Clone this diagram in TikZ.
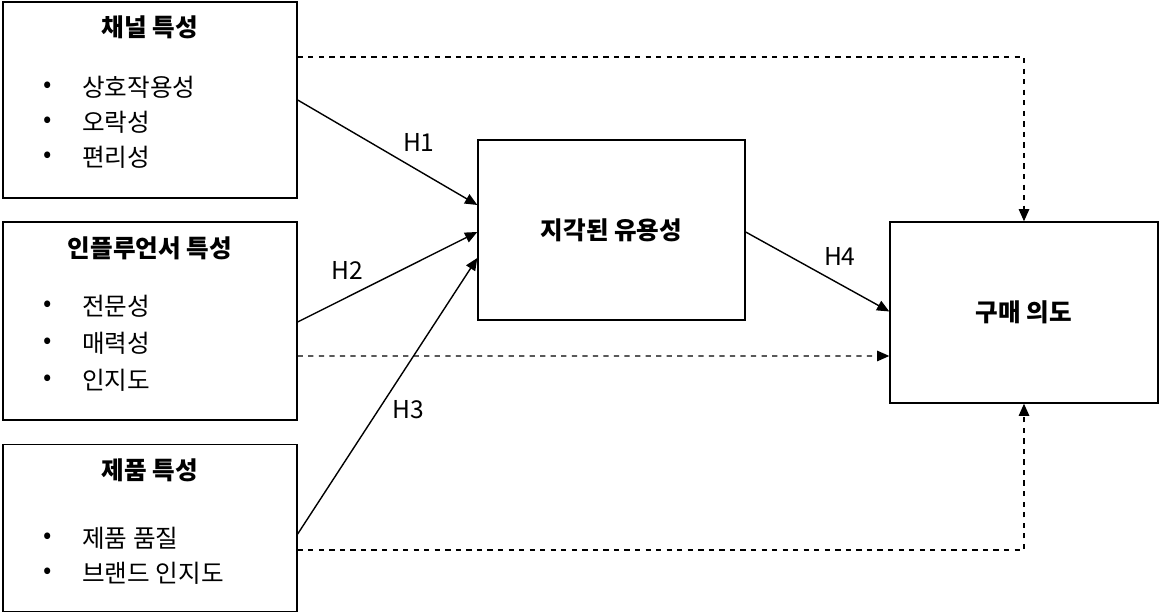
\documentclass[tikz,border=0pt]{standalone}
\usepackage{fontspec}
\setmainfont{Noto Sans CJK KR}
\usetikzlibrary{arrows.meta}
\begin{document}
\begin{tikzpicture}[x=0.02cm, y=-0.02cm, every node/.style={font=\fontsize{14}{17}\selectfont},
    box/.style={draw, thick, rectangle, inner sep=0pt},
    title/.style={font=\fontsize{14}{17}\selectfont\bfseries},
    item/.style={anchor=west, inner sep=0pt},
    link/.style={-{Triangle[length=7pt,width=6pt]}, thick},
    direct/.style={-{Triangle[length=7pt,width=6pt]}, thick, dashed}]
    \useasboundingbox (0,0) rectangle (1160,614);
    % boxes
    \node[box, minimum width=5.88cm, minimum height=3.92cm] (chan) at (150,100) {};
    \node[box, minimum width=5.88cm, minimum height=3.96cm] (infl) at (150,321) {};
    \node[box, minimum width=5.88cm, minimum height=3.34cm] (prod) at (150,528) {};
    \node[box, minimum width=5.34cm, minimum height=3.6cm, title] (use) at (611.5,230) {지각된 유용성};
    \node[box, minimum width=5.36cm, minimum height=3.62cm, title] (buy) at (1024,312.5) {구매 의도};
    % titles
    \node[title] (t1) at (150,27) {채널 특성};
    \node[title] (t2) at (150,248) {인플루언서 특성};
    \node[title] (t3) at (150,470) {제품 특성};
    % items
    \foreach \txt/\y in {상호작용성/87, 오락성/122, 편리성/157, 전문성/306, 매력성/343, 인지도/380, 제품 품질/538, 브랜드 인지도/573} {
        \node at (48,\y) {•};
        \node[item] at (82,\y) {\txt};
    }
    % hypotheses
    \draw[link] ([yshift=-0.0cm]chan.east) -- ([yshift=0.5cm]use.west) node[pos=0.55, above right] {H1};
    \draw[link] ([yshift=-0.02cm]infl.east) -- ([yshift=-0.04cm]use.west) node[pos=0.4, above left] {H2};
    \draw[link] ([yshift=-0.12cm]prod.east) -- ([yshift=-0.56cm]use.west) node[pos=0.45, right=4pt] {H3};
    \draw[link] ([yshift=-0.04cm]use.east) -- ([yshift=0.02cm]buy.west) node[pos=0.5, above right] {H4};
    % direct effects
    \draw[direct] ([yshift=0.86cm]chan.east) -| (buy.north);
    \draw[direct] ([yshift=-0.7cm]infl.east) -- ([yshift=-0.87cm]buy.west);
    \draw[direct] ([yshift=-0.44cm]prod.east) -| (buy.south);
\end{tikzpicture}
\end{document}
